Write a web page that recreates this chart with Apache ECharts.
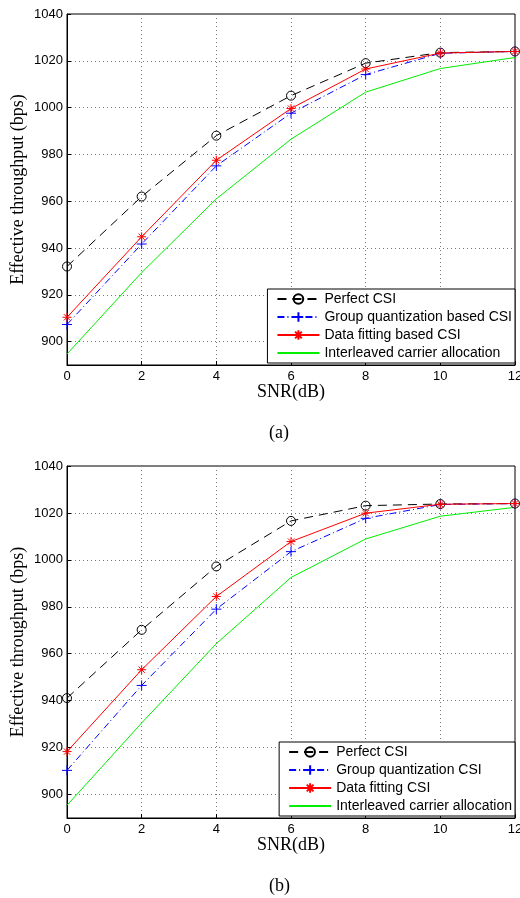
<!DOCTYPE html>
<html><head><meta charset="utf-8">
<script src="https://cdn.jsdelivr.net/npm/echarts@6/dist/echarts.min.js"></script>
<style>html,body{margin:0;padding:0;background:#fff}#c{width:520px;height:898px}</style>
</head><body><div id="c"></div>
<script>
// ---- data ----
const snr = [0, 2, 4, 6, 8, 10, 12];
const yTicks = [900, 920, 940, 960, 980, 1000, 1020, 1040];
// chart (a)
const aPerfect   = [932.1, 962.0, 988.0, 1005.1, 1019.0, 1023.5, 1024.0];
const aGroup     = [907.3, 941.7, 975.1, 997.6, 1014.1, 1023.2, 1024.0];
const aFitting   = [910.4, 944.8, 977.5, 999.6, 1016.5, 1023.3, 1024.0];
const aInterleav = [894.7, 929.5, 961.0, 986.5, 1006.6, 1016.7, 1021.4];
// chart (b)
const bPerfect   = [941.1, 970.2, 997.2, 1016.6, 1023.1, 1023.8, 1024.0];
const bGroup     = [910.3, 946.5, 979.0, 1003.5, 1017.7, 1023.6, 1024.0];
const bFitting   = [918.3, 953.2, 984.4, 1007.8, 1019.9, 1023.7, 1024.0];
const bInterleav = [895.4, 930.5, 964.3, 992.5, 1008.9, 1018.6, 1022.4];
const namesA = ['Perfect CSI', 'Group quantization based CSI', 'Data fitting based CSI', 'Interleaved carrier allocation'];
const namesB = ['Perfect CSI', 'Group quantization CSI', 'Data fitting CSI', 'Interleaved carrier allocation'];

const pts = arr => arr.map((v, i) => [snr[i], v]);
const CIRC = 'path://M10,5A5,5,0,1,1,0,5A5,5,0,1,1,10,5Z';
const PLUS = 'path://M5,0L5,10M0,5L10,5';
const STAR = 'path://M5,0L5,10M0,5L10,5M1.5,1.5L8.5,8.5M1.5,8.5L8.5,1.5';
const SANS = 'Liberation Sans, Arial, sans-serif';
const SERIF = 'Liberation Serif, Times New Roman, serif';

function mkX(gi) {
  return {
    type: 'value', gridIndex: gi, min: 0, max: 12, interval: 2,
    name: 'SNR(dB)', nameLocation: 'middle', nameGap: 18, nameMoveOverlap: false,
    nameTextStyle: { fontFamily: SERIF, fontSize: 18, color: '#000' },
    axisLine: { show: true, lineStyle: { color: '#000', width: 1 } },
    axisTick: { show: true, inside: true, length: 4, lineStyle: { color: '#000' } },
    axisLabel: { color: '#000', fontFamily: SANS, fontSize: 13, margin: 5 },
    splitLine: { show: true, lineStyle: { color: '#777', type: [1, 3], width: 1 } }
  };
}
function mkY(gi) {
  return {
    type: 'value', gridIndex: gi, min: 890, max: 1040,
    name: 'Effective throughput (bps)', nameLocation: 'middle', nameGap: 40, nameMoveOverlap: false,
    nameTextStyle: { fontFamily: SERIF, fontSize: 18, color: '#000' },
    axisLine: { show: true, lineStyle: { color: '#000', width: 1 } },
    axisTick: { show: true, inside: true, length: 4, lineStyle: { color: '#000' }, customValues: yTicks },
    axisLabel: { color: '#000', fontFamily: SANS, fontSize: 13, margin: 4, customValues: yTicks,
                 formatter: v => String(v) },
    splitLine: { show: true, lineStyle: { color: '#777', type: [1, 3], width: 1 } }
  };
}
function mkSeries(gi, names, d) {
  return [
    { name: names[0], type: 'line', xAxisIndex: gi, yAxisIndex: gi, data: pts(d[0]),
      symbol: CIRC, symbolSize: 9, z: 3,
      lineStyle: { color: '#000', width: 1, type: [9, 6] },
      itemStyle: { color: 'rgba(0,0,0,0)', borderColor: '#000', borderWidth: 1 } },
    { name: names[1], type: 'line', xAxisIndex: gi, yAxisIndex: gi, data: pts(d[1]),
      symbol: PLUS, symbolSize: 10, z: 4,
      lineStyle: { color: '#0000ff', width: 1, type: [7, 3, 1, 3] },
      itemStyle: { color: '#0000ff', borderColor: '#0000ff', borderWidth: 1 } },
    { name: names[2], type: 'line', xAxisIndex: gi, yAxisIndex: gi, data: pts(d[2]),
      symbol: STAR, symbolSize: 9, z: 5,
      lineStyle: { color: '#ff0000', width: 1 },
      itemStyle: { color: '#ff0000', borderColor: '#ff0000', borderWidth: 1 } },
    { name: names[3], type: 'line', xAxisIndex: gi, yAxisIndex: gi, data: pts(d[3]),
      symbol: 'none', z: 2,
      lineStyle: { color: '#00ee00', width: 1 },
      itemStyle: { color: '#00ee00' } }
  ];
}
function mkLegend(names, top) {
  return {
    data: names.map((n, i) => i === 3 ? { name: n, itemStyle: { opacity: 0 } } : n),
    orient: 'vertical', right: 5, top: top,
    itemWidth: 42, itemHeight: 12, itemGap: 4,
    padding: [3, 3, 3, 9],
    backgroundColor: '#fff', borderColor: '#000', borderWidth: 1, borderRadius: 0,
    textStyle: { fontFamily: SANS, fontSize: 14, color: '#000', lineHeight: 14 },
    selectedMode: false
  };
}

const chart = echarts.init(document.getElementById('c'), null, { renderer: 'canvas' });
chart.setOption({
  animation: false,
  backgroundColor: '#fff',
  title: [
    { text: '(a)', left: 269, top: 424, textStyle: { fontFamily: SERIF, fontSize: 18, fontWeight: 'normal', color: '#000' }, padding: 0 },
    { text: '(b)', left: 269, top: 877, textStyle: { fontFamily: SERIF, fontSize: 18, fontWeight: 'normal', color: '#000' }, padding: 0 }
  ],
  grid: [
    { left: 67, top: 14, width: 448, height: 351, show: true, borderColor: '#000', borderWidth: 1, backgroundColor: 'transparent', outerBoundsMode: 'none', containLabel: false },
    { left: 67, top: 466, width: 448, height: 352, show: true, borderColor: '#000', borderWidth: 1, backgroundColor: 'transparent', outerBoundsMode: 'none', containLabel: false }
  ],
  xAxis: [mkX(0), mkX(1)],
  yAxis: [mkY(0), mkY(1)],
  legend: [mkLegend(namesA, 289), mkLegend(namesB, 742)],
  series: [].concat(
    mkSeries(0, namesA, [aPerfect, aGroup, aFitting, aInterleav]),
    mkSeries(1, namesB, [bPerfect, bGroup, bFitting, bInterleav])
  )
});
</script></body></html>
